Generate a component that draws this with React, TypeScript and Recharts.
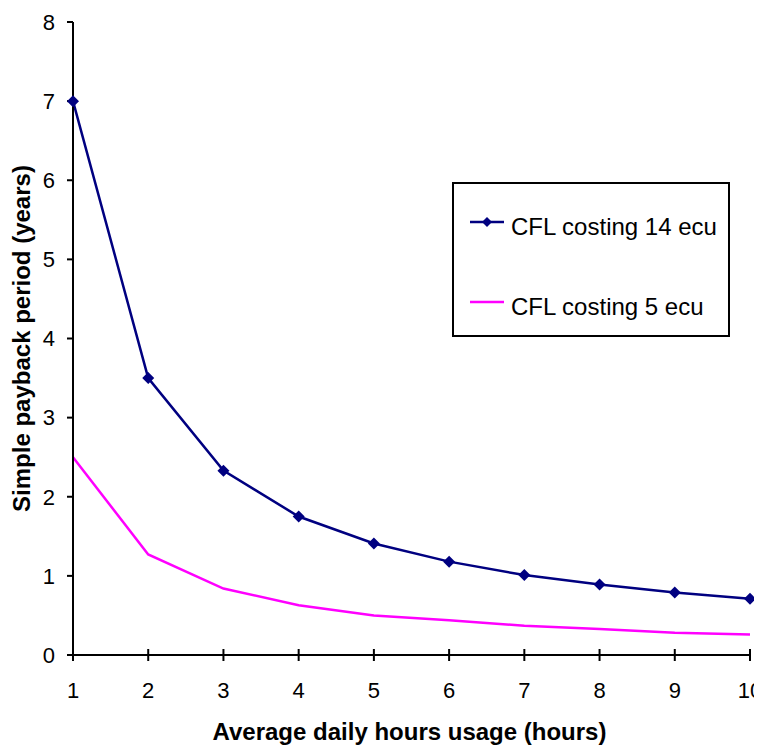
import React from 'react';
import { LineChart, Line, XAxis, YAxis, Legend } from 'recharts';

const hours = [1, 2, 3, 4, 5, 6, 7, 8, 9, 10];
const cfl14 = [7, 3.5, 2.33, 1.75, 1.41, 1.18, 1.01, 0.89, 0.79, 0.71];
const cfl5 = [2.5, 1.27, 0.84, 0.63, 0.5, 0.44, 0.37, 0.33, 0.28, 0.26];
const yTicks = [0, 1, 2, 3, 4, 5, 6, 7, 8];

const SERIES = [
  { key: 'cfl14', name: 'CFL costing 14 ecu', color: '#000080', marker: true },
  { key: 'cfl5', name: 'CFL costing 5 ecu', color: '#FF00FF', marker: false },
];

const data = hours.map((h, i) => ({ hours: h, cfl14: cfl14[i], cfl5: cfl5[i] }));

const FONT = '"Liberation Sans", Arial, sans-serif';

const Diamond = (props: any) => {
  const { cx, cy, fill } = props;
  if (cx == null || cy == null) return null;
  const r = 6;
  return (
    <polygon
      points={`${cx},${cy - r} ${cx + r},${cy} ${cx},${cy + r} ${cx - r},${cy}`}
      fill={fill}
    />
  );
};

const XTick = (props: any) => {
  const { x, y, payload } = props;
  return (
    <g>
      <line x1={x} x2={x} y1={y - 6} y2={y + 6} stroke="#000" strokeWidth={2} />
      <text x={x} y={y + 43} textAnchor="middle" fontSize={22} fontFamily={FONT} fill="#000">
        {payload.value}
      </text>
    </g>
  );
};

const LegendBox = () => (
  <div
    style={{
      width: 278,
      height: 155,
      border: '2px solid #000',
      boxSizing: 'border-box',
      background: '#fff',
      fontFamily: FONT,
      fontSize: 24,
      color: '#000',
      position: 'relative',
    }}
  >
    {SERIES.map((s, i) => (
      <div
        key={s.key}
        style={{
          position: 'absolute',
          left: 16,
          top: 38 + i * 80 - 20,
          height: 40,
          display: 'flex',
          alignItems: 'center',
          whiteSpace: 'nowrap',
        }}
      >
        <svg width={34} height={14} style={{ marginRight: 7 }}>
          <line x1={0} x2={34} y1={7} y2={7} stroke={s.color} strokeWidth={2.5} />
          {s.marker && <polygon points="17,2 22,7 17,12 12,7" fill={s.color} />}
        </svg>
        <span style={{ position: 'relative', top: 5 }}>{s.name}</span>
      </div>
    ))}
  </div>
);

export default function App() {
  return (
    <div>
      <style>{'html, body { overflow: hidden; }'}</style>
      <LineChart
        width={754}
        height={738}
        data={data}
        margin={{ top: 14, right: 12, left: 0, bottom: 0 }}
        style={{ fontFamily: FONT }}
      >
        <XAxis
          dataKey="hours"
          type="number"
          domain={[1, 10]}
          ticks={hours}
          height={91}
          axisLine={{ stroke: '#000', strokeWidth: 2 }}
          tickLine={false}
          tickSize={0}
          tickMargin={0}
          tick={<XTick />}
          interval={0}
          label={{
            content: ({ viewBox }: any) => (
              <text
                x={viewBox.x + viewBox.width / 2 - 2}
                y={viewBox.y + 85}
                textAnchor="middle"
                fontSize={24}
                fontWeight="bold"
                fontFamily={FONT}
                fill="#000"
              >
                Average daily hours usage (hours)
              </text>
            ),
          }}
        />
        <YAxis
          type="number"
          domain={[0, 8]}
          ticks={yTicks}
          width={65}
          interval={0}
          axisLine={{ stroke: '#000', strokeWidth: 2 }}
          tickLine={{ stroke: '#000', strokeWidth: 2 }}
          tickSize={6}
          tickMargin={12}
          tick={{ fontSize: 22, fill: '#000', fontFamily: FONT }}
          label={{
            content: ({ viewBox }: any) => {
              const cx = viewBox.x + 22;
              const cy = viewBox.y + viewBox.height / 2;
              return (
                <text
                  x={cx}
                  y={cy}
                  transform={`rotate(-90, ${cx}, ${cy})`}
                  textAnchor="middle"
                  fontSize={24}
                  fontWeight="bold"
                  fontFamily={FONT}
                  fill="#000"
                >
                  Simple payback period (years)
                </text>
              );
            },
          }}
        />
        <Legend
          layout="horizontal"
          verticalAlign="middle"
          align="center"
          content={<LegendBox />}
          wrapperStyle={{ left: 444, top: 174, width: 278, height: 155 }}
        />
        {SERIES.map((s) => (
          <Line
            key={s.key}
            type="linear"
            dataKey={s.key}
            name={s.name}
            stroke={s.color}
            strokeWidth={2.5}
            dot={s.marker ? <Diamond fill={s.color} /> : false}
            activeDot={false}
            isAnimationActive={false}
          />
        ))}
      </LineChart>
    </div>
  );
}
